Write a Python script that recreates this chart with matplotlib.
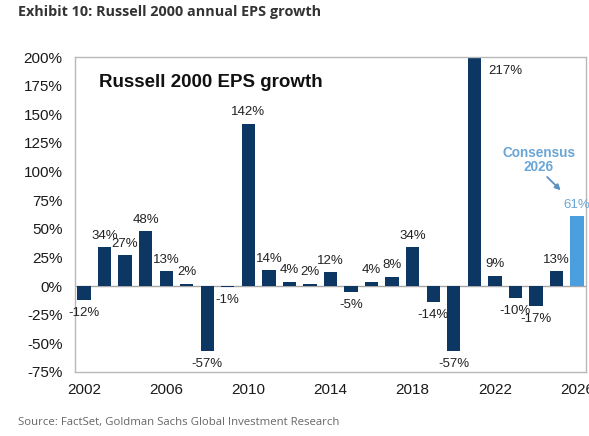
import matplotlib
matplotlib.use("Agg")
import matplotlib.pyplot as plt
import numpy as np

# Russell 2000 annual EPS growth (%)
years = list(range(2002, 2027))
growth = [-12, 34, 27, 48, 13, 2, -57, -1, 142, 14, 4, 2, 12, -5, 4, 8, 34,
          -14, -57, 217, 9, -10, -17, 13, 61]
tick_years = [2002, 2006, 2010, 2014, 2018, 2022, 2026]
y_ticks = [-75, -50, -25, 0, 25, 50, 75, 100, 125, 150, 175, 200]

navy = "#0c3763"
light_blue = "#4c9fdf"
label_blue = "#6aa6d6"

plt.rcParams['font.family'] = ['Liberation Sans', 'DejaVu Sans']

fig = plt.figure(figsize=(5.89, 4.36), dpi=100)
ax = fig.add_axes([0.1273, 0.1468, 0.8677, 0.7222])

colors = [navy] * (len(years) - 1) + [light_blue]
ax.bar(years, growth, width=0.65, color=colors, zorder=2)
ax.axhline(0, color="#a6a6a6", linewidth=1, zorder=1)

ax.set_xlim(2001.56, 2026.44)
ax.set_ylim(-75, 200)
ax.set_xticks(tick_years)
ax.set_yticks(y_ticks)
ax.set_yticklabels([f"{v}%" for v in y_ticks])
ax.tick_params(length=0, labelsize=11, colors="#1a1a1a", pad=8)
ax.tick_params(axis='y', pad=9)
for s in ax.spines.values():
    s.set_color("#b8b8b8")
    s.set_linewidth(1)

# data labels
for yr, v in zip(years, growth):
    if yr == 2021:
        ax.text(yr + 1.5, 193, f"{v}%", ha="center", va="top", fontsize=9.5,
                color="#222222")
        continue
    if yr == 2026:
        ax.annotate(f"{v}%", (yr, v), xytext=(0, 4), textcoords="offset points",
                    ha="center", va="bottom", fontsize=9.5, color=label_blue,
                    annotation_clip=False)
        continue
    if v >= 0:
        ax.annotate(f"{v}%", (yr, v), xytext=(0, 4), textcoords="offset points",
                    ha="center", va="bottom", fontsize=9.5, color="#222222")
    else:
        ax.annotate(f"{v}%", (yr, v), xytext=(0, -5), textcoords="offset points",
                    ha="center", va="top", fontsize=9.5, color="#222222")

ax.text(2002.75, 178, "Russell 2000 EPS growth", fontsize=13.5, fontweight="bold",
        color="#111111", va="center")

ax.text(2024.15, 110, "Consensus\n2026", fontsize=9.8, fontweight="bold",
        color=label_blue, ha="center", va="center", linespacing=1.05)
ax.annotate("", xy=(2025.3, 82), xytext=(2024.45, 97),
            arrowprops=dict(arrowstyle="-|>", color="#5b8fbf", lw=1.3,
                            mutation_scale=8))

fig.text(0.03, 0.972, "Exhibit 10: Russell 2000 annual EPS growth",
         family="Open Sans", fontweight="bold", fontsize=10.4, color="#333333",
         va="center")
fig.text(0.03, 0.03, "Source: FactSet, Goldman Sachs Global Investment Research",
         family="Open Sans", fontsize=8.2, color="#666666", va="center")

fig.savefig("out.png", dpi=100)
